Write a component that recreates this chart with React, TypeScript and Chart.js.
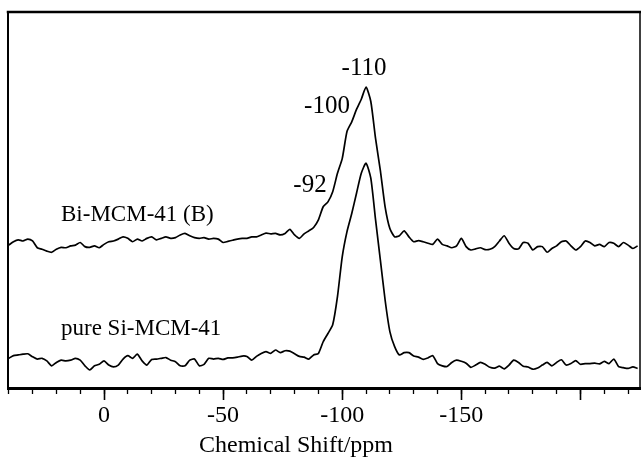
import React, { useEffect, useRef } from "react";
import { Chart, registerables } from "chart.js";

Chart.register(...registerables);

// Chemical shift (ppm) of each sampled point
const shifts = [
  40, 38, 36, 34, 32, 30, 28, 26, 24, 22, 20, 18, 16, 14, 12, 10, 8, 6, 4, 2, 0,
  -2, -4, -6, -8, -10, -12, -14, -16, -18, -20, -22, -24, -26, -28, -30, -32, -34, -36, -38, -40,
  -42, -44, -46, -48, -50, -52, -54, -56, -58, -60, -62, -64, -66, -68, -70, -72, -74, -76, -78, -80,
  -82, -84, -86, -88, -90, -92, -94, -96, -98, -100, -102, -104, -106, -108, -110, -112, -114, -116, -118, -120,
  -122, -124, -126, -128, -130, -132, -134, -136, -138, -140, -142, -144, -146, -148, -150, -152, -154, -156, -158, -160,
  -162, -164, -166, -168, -170, -172, -174, -176, -178, -180, -182, -184, -186, -188, -190, -192, -194, -196, -198, -200,
  -202, -204, -206, -208, -210, -212, -214, -216, -218, -220, -222, -224,
];

// Bi-MCM-41 (B) spectrum (offset intensity, a.u.)
const biMcm41 = [
  38.0, 38.9, 39.4, 39.1, 39.6, 39.1, 37.3, 36.9, 36.4, 36.1, 36.9, 37.4, 37.3, 37.8, 38.0, 38.7, 37.6, 37.4, 37.8, 37.3, 38.2,
  38.9, 39.1, 39.6, 40.2, 39.8, 38.9, 39.6, 39.1, 39.8, 40.2, 39.4, 39.8, 40.2, 39.8, 40.0, 40.7, 41.1, 40.5, 40.0, 39.8,
  40.0, 39.6, 39.8, 39.6,
  38.7, 39.0, 39.3, 39.6, 39.8, 39.8, 40.2, 40.2, 40.7, 41.2, 41.0, 41.1, 40.7, 41.1, 42.2, 40.7, 39.8, 41.0, 41.8, 42.7,
  44.7, 48.2, 49.5, 52.2, 57.1, 61.0, 68.2, 70.8, 74.1, 76.8, 80.0, 76.2, 66.3, 57.9, 48.2, 42.4, 40.2, 40.5, 41.8, 40.2,
  38.9, 39.2, 38.9, 38.5,
  38.2, 39.6, 38.2, 37.8, 37.3, 37.8, 39.8, 37.6, 36.7, 37.0, 37.3, 36.8, 36.9, 37.6, 39.1, 40.5, 38.5, 37.1, 37.0, 38.7,
  38.5, 36.7, 37.6, 37.6, 36.1, 37.1, 37.8, 38.9, 39.1, 37.8, 36.7, 37.6, 39.1, 38.7, 37.8, 38.2, 37.6, 38.7, 38.5, 37.6,
  38.7, 38.0, 37.1, 37.8,
];

// pure Si-MCM-41 spectrum (intensity, a.u.)
const pureSiMcm41 = [
  7.9, 8.6, 8.8, 9.0, 9.1, 8.3, 7.7, 7.9, 7.2, 5.9, 6.8, 7.4, 7.2, 7.4, 7.9, 7.4, 5.9, 4.8, 5.9, 6.3, 7.2,
  6.1, 5.6, 6.1, 7.7, 8.6, 7.9, 9.0, 7.2, 6.1, 7.6, 7.7, 7.9, 8.1, 7.4, 7.0, 5.9, 5.9, 7.4, 7.7, 5.9,
  6.3, 7.9, 7.7, 7.9,
  7.6, 8.0, 8.0, 8.2, 8.5, 8.4, 7.4, 8.4, 9.2, 9.7, 9.2, 10.1, 9.4, 9.9, 9.8, 9.1, 8.4, 8.2, 7.7, 8.8,
  9.2, 12.3, 14.5, 16.8, 24.3, 34.9, 41.6, 46.4, 51.8, 57.1, 59.8, 55.8, 44.7, 34.1, 23.4, 15.0, 11.0, 8.8, 9.4, 9.4,
  8.5, 8.2, 7.6, 8.0,
  8.6, 6.5, 5.9, 5.7, 6.8, 7.4, 7.1, 6.6, 5.5, 6.1, 6.8, 6.3, 5.5, 5.3, 5.8, 5.1, 6.1, 7.4, 6.8, 5.8,
  5.6, 5.0, 5.3, 6.1, 6.8, 5.9, 6.8, 7.5, 6.1, 6.5, 7.3, 6.3, 6.5, 6.5, 6.6, 6.4, 7.1, 6.5, 7.7, 5.7,
  5.4, 5.2, 5.6, 5.2,
];

const tickLabels = ["0", "-50", "-100", "-150"];
const seriesNames = ["Bi-MCM-41 (B)", "pure Si-MCM-41"];
const peakLabels = ["-110", "-100", "-92"];
const axisTitle = "Chemical Shift/ppm";

const SERIF = '"Liberation Serif", "Times New Roman", serif';

const framePlugin = {
  id: "frameAndText",
  afterDraw(chart: any) {
    const { ctx, chartArea: a } = chart;
    ctx.save();
    ctx.strokeStyle = "#000";
    ctx.lineCap = "square";
    // top
    ctx.lineWidth = 2.5;
    ctx.beginPath();
    ctx.moveTo(a.left, a.top);
    ctx.lineTo(a.right, a.top);
    ctx.stroke();
    // left
    ctx.lineWidth = 2;
    ctx.beginPath();
    ctx.moveTo(a.left, a.top);
    ctx.lineTo(a.left, a.bottom);
    ctx.stroke();
    // right
    ctx.lineWidth = 1.5;
    ctx.beginPath();
    ctx.moveTo(a.right, a.top);
    ctx.lineTo(a.right, a.bottom);
    ctx.stroke();

    ctx.fillStyle = "#000";
    ctx.textBaseline = "middle";
    ctx.textAlign = "left";
    ctx.font = `23px ${SERIF}`;
    ctx.fillText(seriesNames[0], 61, 215);
    ctx.fillText(seriesNames[1], 61, 329);

    ctx.textAlign = "center";
    ctx.font = `25px ${SERIF}`;
    ctx.fillText(peakLabels[0], 364, 68);
    ctx.fillText(peakLabels[1], 327, 106);
    ctx.fillText(peakLabels[2], 310, 185);

    ctx.font = `24px ${SERIF}`;
    ctx.fillText(axisTitle, 296, 446);
    ctx.restore();
  },
};

export default function App() {
  const ref = useRef<HTMLCanvasElement | null>(null);

  useEffect(() => {
    if (!ref.current) return;
    const chart = new Chart(ref.current, {
      type: "line",
      data: {
        datasets: [
          {
            label: seriesNames[0],
            data: shifts.map((x, i) => ({ x, y: biMcm41[i] })),
            borderColor: "#000",
            borderWidth: 1.7,
            pointRadius: 0,
            tension: 0.2,
            fill: false,
          },
          {
            label: seriesNames[1],
            data: shifts.map((x, i) => ({ x, y: pureSiMcm41[i] })),
            borderColor: "#000",
            borderWidth: 1.7,
            pointRadius: 0,
            tension: 0.2,
            fill: false,
          },
        ],
      },
      options: {
        responsive: false,
        animation: false,
        devicePixelRatio: 1,
        layout: { padding: { left: 8, right: 1, top: 12, bottom: 0 } },
        plugins: {
          legend: { display: false },
          tooltip: { enabled: false },
        },
        scales: {
          xMinor: {
            type: "linear",
            position: "bottom",
            reverse: true,
            min: -225,
            max: 40.3,
            weight: 0,
            ticks: { display: false, stepSize: 10, includeBounds: false },
            grid: {
              display: true,
              drawOnChartArea: false,
              drawTicks: true,
              tickLength: 6,
              tickWidth: 1.3,
              color: "#000",
            },
            border: { display: false },
            afterFit: (s: any) => {
              s.height = 0;
            },
          },
          x: {
            type: "linear",
            position: "bottom",
            reverse: true,
            min: -225,
            max: 40.3,
            weight: 1,
            ticks: {
              stepSize: 50,
              includeBounds: false,
              autoSkip: false,
              maxRotation: 0,
              padding: 1,
              color: "#000",
              font: { family: SERIF, size: 24 },
              callback: (v: any) => (tickLabels.includes(String(v)) ? String(v) : ""),
            },
            grid: {
              display: true,
              drawOnChartArea: false,
              drawTicks: true,
              tickLength: 12,
              tickWidth: 1.6,
              color: "#000",
            },
            border: { display: true, color: "#000", width: 3 },
            afterFit: (s: any) => {
              s.height = 75;
            },
          },
          y: {
            display: false,
            min: 0,
            max: 100,
          },
        },
      },
      plugins: [framePlugin],
    });
    return () => chart.destroy();
  }, []);

  return (
    <div style={{ position: "absolute", left: 0, top: 0, width: 641, height: 463, background: "#fff" }}>
      <canvas ref={ref} width={641} height={463} />
    </div>
  );
}
